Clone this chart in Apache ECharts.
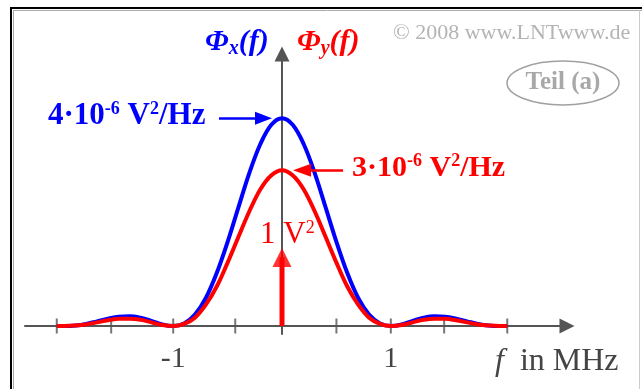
<!DOCTYPE html>
<html>
<head>
<meta charset="utf-8">
<script src="https://cdn.jsdelivr.net/npm/echarts@6/dist/echarts.min.js"></script>
<style>
  html, body { margin: 0; padding: 0; background: #ffffff; }
  #chart { width: 642px; height: 389px; }
</style>
</head>
<body>
<div id="chart"></div>
<script>
// Frequency samples in MHz
const freq = [-2.07, -2.0, -1.9, -1.8, -1.7, -1.6, -1.5, -1.4, -1.3, -1.2, -1.1,
              -1.0, -0.9, -0.8, -0.7, -0.6, -0.5, -0.4, -0.3, -0.2, -0.1,
              0.0, 0.1, 0.2, 0.3, 0.4, 0.5, 0.6, 0.7, 0.8, 0.9, 1.0,
              1.1, 1.2, 1.3, 1.4, 1.5, 1.6, 1.7, 1.8, 1.9, 2.0, 2.07];
// Power spectral density of x(t), in 10^-6 V²/Hz
const phiX = [0, 0, 0.01, 0.04, 0.09, 0.14, 0.18, 0.19, 0.16, 0.10, 0.03,
              0, 0.05, 0.22, 0.54, 1.02, 1.62, 2.29, 2.95, 3.50, 3.87,
              4.00, 3.87, 3.50, 2.95, 2.29, 1.62, 1.02, 0.54, 0.22, 0.05, 0,
              0.03, 0.10, 0.16, 0.19, 0.18, 0.14, 0.09, 0.04, 0.01, 0, 0];
// Continuous part of the power spectral density of y(t), in 10^-6 V²/Hz
const phiY = [0, 0, 0.01, 0.03, 0.07, 0.11, 0.14, 0.14, 0.12, 0.07, 0.02,
              0, 0.04, 0.16, 0.41, 0.76, 1.22, 1.72, 2.21, 2.63, 2.90,
              3.00, 2.90, 2.63, 2.21, 1.72, 1.22, 0.76, 0.41, 0.16, 0.04, 0,
              0.02, 0.07, 0.12, 0.14, 0.14, 0.11, 0.07, 0.03, 0.01, 0, 0];
// Dirac line of y(t) (DC component), weight in V²
const diracFreq = [0];
const diracWeight = [1];
// Tick positions along the frequency axis and the labelled ones
const tickFreq = [-2.07, -1.57, -1, -0.43, 0, 0.5, 1, 1.49, 2.07];
const labelFreq = [-1, 1];
// Peak values named in the annotations
const peakX = 4;
const peakY = 3;

const BLUE = '#0000ff';
const RED = '#ff0000';
const AXIS = '#555555';
const SERIF = '"Liberation Serif", "DejaVu Serif", serif';

const zip = (xs, ys) => xs.map((x, i) => [x, ys[i]]);

const chart = echarts.init(document.getElementById('chart'), null, { renderer: 'canvas' });

chart.setOption({
  animation: false,
  backgroundColor: '#ffffff',
  grid: { left: 25, right: 75, top: 54, bottom: 55, containLabel: false },
  xAxis: {
    type: 'value',
    min: -2.362,
    max: 2.619,
    splitLine: { show: false },
    axisTick: { show: false },
    axisLine: {
      onZero: true,
      symbol: ['none', 'triangle'],
      symbolSize: [15, 15],
      lineStyle: { color: AXIS, width: 2 }
    },
    axisLabel: {
      customValues: labelFreq,
      formatter: (v) => String(v),
      margin: 10,
      fontFamily: SERIF,
      fontSize: 30,
      color: '#444444'
    }
  },
  yAxis: [
    {
      type: 'value',
      min: -0.154,
      max: 5.238,
      splitLine: { show: false },
      axisTick: { show: false },
      axisLabel: { show: false },
      axisLine: {
        show: true,
        onZero: true,
        symbol: ['none', 'triangle'],
        symbolSize: [15, 15],
        lineStyle: { color: AXIS, width: 2 }
      }
    },
    {
      // separate scale for the Dirac weight (V²)
      type: 'value',
      min: -0.1026,
      max: 3.487,
      show: false
    }
  ],
  series: [
    {
      name: 'ticks',
      type: 'scatter',
      data: tickFreq.map((f) => [f, 0]),
      symbol: 'rect',
      symbolSize: [2, 15],
      itemStyle: { color: AXIS },
      silent: true,
      z: 1
    },
    {
      name: 'Phi_x',
      type: 'line',
      data: zip(freq, phiX),
      smooth: 0.35,
      showSymbol: false,
      symbol: 'none',
      lineStyle: { color: BLUE, width: 4 },
      z: 3,
      markLine: {
        silent: true,
        symbol: ['none', 'triangle'],
        symbolSize: [13, 17],
        label: { show: false },
        lineStyle: { color: BLUE, width: 2.5, type: 'solid' },
        data: [[{ coord: [-0.579, peakX] }, { coord: [-0.17, peakX] }]]
      }
    },
    {
      name: 'Phi_y',
      type: 'line',
      data: zip(freq, phiY),
      smooth: 0.35,
      showSymbol: false,
      symbol: 'none',
      lineStyle: { color: RED, width: 4 },
      z: 4,
      markLine: {
        silent: true,
        symbol: ['none', 'triangle'],
        symbolSize: [13, 18],
        label: { show: false },
        lineStyle: { color: RED, width: 2.5, type: 'solid' },
        data: [[{ coord: [0.561, peakY] }, { coord: [0.184, peakY] }]]
      }
    },
    {
      name: 'dirac shaft',
      type: 'line',
      yAxisIndex: 1,
      data: [[diracFreq[0], 0], [diracFreq[0], diracWeight[0] - 0.12]],
      showSymbol: false,
      symbol: 'none',
      lineStyle: { color: RED, width: 5, cap: 'butt' },
      z: 5
    },
    {
      name: 'dirac head',
      type: 'scatter',
      yAxisIndex: 1,
      data: zip(diracFreq, diracWeight),
      symbol: 'triangle',
      symbolSize: [19, 19],
      symbolOffset: [0, '50%'],
      itemStyle: { color: RED },
      silent: true,
      z: 5
    }
  ],
  graphic: [
    // frame
    { type: 'line', shape: { x1: 10, y1: 8, x2: 642, y2: 8 }, style: { stroke: '#000', lineWidth: 2 } },
    { type: 'line', shape: { x1: 11, y1: 8, x2: 11, y2: 389 }, style: { stroke: '#000', lineWidth: 2 } },
    { type: 'line', shape: { x1: 13, y1: 10.5, x2: 642, y2: 10.5 }, style: { stroke: '#aaaaaa', lineWidth: 1 } },
    { type: 'line', shape: { x1: 13.5, y1: 10, x2: 13.5, y2: 389 }, style: { stroke: '#aaaaaa', lineWidth: 1 } },
    { type: 'line', shape: { x1: 639.5, y1: 10, x2: 639.5, y2: 389 }, style: { stroke: '#cccccc', lineWidth: 1 } },
    // axis titles
    {
      type: 'text', x: 205, y: 42,
      style: {
        text: '{a|Φ}{s|x}{a|(f)}',
        verticalAlign: 'middle',
        rich: {
          a: { fontFamily: SERIF, fontSize: 30, fontWeight: 'bold', fontStyle: 'italic', fill: BLUE, lineHeight: 34 },
          s: { fontFamily: SERIF, fontSize: 20, fontWeight: 'bold', fontStyle: 'italic', fill: BLUE, lineHeight: 20, verticalAlign: 'bottom' }
        }
      }
    },
    {
      type: 'text', x: 297, y: 42,
      style: {
        text: '{a|Φ}{s|y}{a|(f)}',
        verticalAlign: 'middle',
        rich: {
          a: { fontFamily: SERIF, fontSize: 30, fontWeight: 'bold', fontStyle: 'italic', fill: RED, lineHeight: 34 },
          s: { fontFamily: SERIF, fontSize: 20, fontWeight: 'bold', fontStyle: 'italic', fill: RED, lineHeight: 20, verticalAlign: 'bottom' }
        }
      }
    },
    // peak annotations
    {
      type: 'text', x: 48, y: 116,
      style: {
        text: '{b|' + peakX + '·10}{p|-6}{b| V}{p|2}{b|/Hz}',
        verticalAlign: 'middle',
        rich: {
          b: { fontFamily: SERIF, fontSize: 31, fontWeight: 'bold', fill: BLUE, lineHeight: 32 },
          p: { fontFamily: SERIF, fontSize: 18, fontWeight: 'bold', fill: BLUE, lineHeight: 18, verticalAlign: 'top' }
        }
      }
    },
    {
      type: 'text', x: 352, y: 168,
      style: {
        text: '{b|' + peakY + '·10}{p|-6}{b| V}{p|2}{b|/Hz}',
        verticalAlign: 'middle',
        rich: {
          b: { fontFamily: SERIF, fontSize: 30, fontWeight: 'bold', fill: RED, lineHeight: 32 },
          p: { fontFamily: SERIF, fontSize: 18, fontWeight: 'bold', fill: RED, lineHeight: 18, verticalAlign: 'top' }
        }
      }
    },
    {
      type: 'text', x: 260, y: 235,
      style: {
        text: '{b|' + diracWeight[0] + ' V}{p|2}',
        verticalAlign: 'middle',
        rich: {
          b: { fontFamily: SERIF, fontSize: 31, fill: RED, lineHeight: 32 },
          p: { fontFamily: SERIF, fontSize: 18, fill: RED, lineHeight: 18, verticalAlign: 'top' }
        }
      }
    },
    // axis name
    {
      type: 'text', x: 495, y: 362,
      style: {
        text: '{i|f}{n|  in MHz}',
        verticalAlign: 'middle',
        rich: {
          i: { fontFamily: SERIF, fontSize: 32, fontStyle: 'italic', fill: '#444444', lineHeight: 34 },
          n: { fontFamily: SERIF, fontSize: 32, fill: '#444444', lineHeight: 34 }
        }
      }
    },
    // copyright and part label
    {
      type: 'text', x: 393, y: 33,
      style: { text: '© 2008 www.LNTwww.de', fontFamily: SERIF, fontSize: 22, fill: '#b4b4b4', verticalAlign: 'middle' }
    },
    {
      type: 'ellipse', shape: { cx: 563, cy: 83, rx: 56, ry: 22 },
      style: { fill: 'none', stroke: '#a0a0a0', lineWidth: 1.5 }
    },
    {
      type: 'text', x: 563, y: 83,
      style: { text: 'Teil (a)', fontFamily: SERIF, fontSize: 25, fontWeight: 'bold', fill: '#a8a8a8', align: 'center', verticalAlign: 'middle' }
    }
  ]
});
</script>
</body>
</html>
